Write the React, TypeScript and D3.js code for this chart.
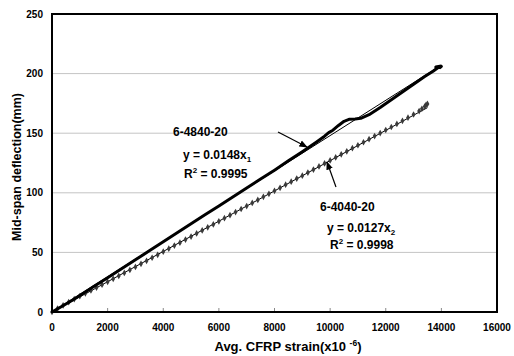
import { useEffect, useRef } from "react";
import * as d3 from "d3";

// 6-4840-20 measured curve (thick line)
const s1Strain = [0, 300, 700, 1000, 1500, 2000, 2500, 3000, 3500, 4000, 4500, 5000, 5500, 6000, 6500, 7000, 7500, 8000, 8500, 9000, 9500, 9800, 9950, 10100, 10300, 10500, 10700, 10900, 11100, 11400, 11800, 12200, 12600, 13000, 13400, 13700, 13850, 14000, 13950, 13800, 14000];
const s1Defl = [0, 4.0, 9.5, 13.8, 21.3, 28.8, 36.2, 43.8, 51.3, 58.9, 66.4, 74.0, 81.5, 89.0, 96.5, 104.0, 111.5, 119.0, 126.8, 134.5, 142.5, 147.5, 150.5, 152.5, 156.5, 160.0, 161.8, 162.0, 162.5, 165.5, 171.5, 178.0, 184.5, 191.0, 197.5, 202.0, 204.5, 206.0, 205.0, 205.5, 206.5];

// 6-4040-20 measured points (markers)
const s2Strain = [0, 200, 400, 600, 800, 1000, 1200, 1400, 1600, 1800, 2000, 2200, 2400, 2600, 2800, 3000, 3200, 3400, 3600, 3800, 4000, 4200, 4400, 4600, 4800, 5000, 5200, 5400, 5600, 5800, 6000, 6200, 6400, 6600, 6800, 7000, 7200, 7400, 7600, 7800, 8000, 8200, 8400, 8600, 8800, 9000, 9200, 9400, 9600, 9800, 10000, 10200, 10400, 10600, 10800, 11000, 11200, 11400, 11600, 11800, 12000, 12200, 12400, 12600, 12800, 13000, 13200, 13300, 13400, 13450, 13500];
const s2Defl = [0, 2.9, 5.6, 8.2, 10.8, 13.3, 15.7, 18.1, 20.5, 22.9, 25.3, 27.8, 30.3, 32.8, 35.3, 37.8, 40.4, 42.9, 45.5, 48.0, 50.6, 53.1, 55.7, 58.2, 60.8, 63.3, 65.9, 68.4, 71.0, 73.5, 76.1, 78.7, 81.2, 83.8, 86.4, 88.9, 91.5, 94.0, 96.6, 99.1, 101.7, 104.2, 106.8, 109.3, 111.9, 114.4, 117.0, 119.5, 122.1, 124.6, 127.2, 129.7, 132.3, 134.8, 137.4, 139.9, 142.4, 145.0, 147.6, 150.1, 152.7, 155.2, 157.8, 160.4, 163.0, 165.7, 168.6, 170.5, 172.4, 173.8, 174.6];

// linear trendlines through origin: slope and strain range
const trendSlopes = [0.0148, 0.0127];
const trendEnds = [14000, 13500];

const xTicks = [0, 2000, 4000, 6000, 8000, 10000, 12000, 14000, 16000];
const yTicks = [0, 50, 100, 150, 200, 250];

const FONT = "'Liberation Sans', Arial, sans-serif";

export default function App() {
  const ref = useRef<SVGSVGElement>(null);

  useEffect(() => {
    const svg = d3.select(ref.current);
    svg.selectAll("*").remove();

    const left = 52, right = 497, top = 14, bottom = 312;
    const x = d3.scaleLinear().domain([0, 16000]).range([left, right]);
    const y = d3.scaleLinear().domain([0, 250]).range([bottom, top]);

    const defs = svg.append("defs");
    defs.append("marker")
      .attr("id", "arr")
      .attr("viewBox", "0 0 10 10")
      .attr("refX", 9)
      .attr("refY", 5)
      .attr("markerWidth", 7)
      .attr("markerHeight", 7)
      .attr("orient", "auto")
      .append("path")
      .attr("d", "M0,1 L10,5 L0,9 z")
      .attr("fill", "#000");

    // gridlines
    svg.append("g")
      .selectAll("line")
      .data(yTicks.filter((t) => t > 0 && t < 250))
      .enter()
      .append("line")
      .attr("x1", left)
      .attr("x2", right)
      .attr("y1", (d) => y(d))
      .attr("y2", (d) => y(d))
      .attr("stroke", "#c4c4c4")
      .attr("stroke-width", 1);

    // x ticks (inside)
    svg.append("g")
      .selectAll("line")
      .data(xTicks.slice(1, -1))
      .enter()
      .append("line")
      .attr("x1", (d) => x(d))
      .attr("x2", (d) => x(d))
      .attr("y1", bottom)
      .attr("y2", bottom - 4)
      .attr("stroke", "#888");

    // tick labels
    svg.append("g")
      .selectAll("text")
      .data(xTicks)
      .enter()
      .append("text")
      .attr("x", (d) => x(d))
      .attr("y", 331)
      .attr("text-anchor", "middle")
      .attr("font-family", FONT)
      .attr("font-weight", "bold")
      .attr("font-size", 10)
      .text((d) => d);

    svg.append("g")
      .selectAll("text")
      .data(yTicks)
      .enter()
      .append("text")
      .attr("x", 43)
      .attr("y", (d) => y(d) + 3.5)
      .attr("text-anchor", "end")
      .attr("font-family", FONT)
      .attr("font-weight", "bold")
      .attr("font-size", 10)
      .text((d) => d);

    // trendlines
    trendSlopes.forEach((m, i) => {
      svg.append("line")
        .attr("x1", x(0))
        .attr("y1", y(0))
        .attr("x2", x(trendEnds[i]))
        .attr("y2", y(m * trendEnds[i]))
        .attr("stroke", "#000")
        .attr("stroke-width", 1);
    });

    // series 2 markers
    const pts2 = s2Strain.map((s, i) => [s, s2Defl[i]]);
    svg.append("g")
      .selectAll("path")
      .data(pts2)
      .enter()
      .append("path")
      .attr("d", d3.symbol().type(d3.symbolDiamond).size(13))
      .attr("transform", (d) => `translate(${x(d[0])},${y(d[1])})`)
      .attr("fill", "#3a3a3a");

    // series 1 thick line
    const pts1 = s1Strain.map((s, i) => [s, s1Defl[i]] as [number, number]);
    svg.append("path")
      .datum(pts1)
      .attr("d", d3.line<[number, number]>().x((d) => x(d[0])).y((d) => y(d[1])))
      .attr("fill", "none")
      .attr("stroke", "#000")
      .attr("stroke-width", 3)
      .attr("stroke-linejoin", "round");

    // frame
    svg.append("rect")
      .attr("x", left)
      .attr("y", top)
      .attr("width", right - left)
      .attr("height", bottom - top)
      .attr("fill", "none")
      .attr("stroke", "#000")
      .attr("stroke-width", 2);

    // annotations
    const arrow = (x1: number, y1: number, x2: number, y2: number) =>
      svg.append("line")
        .attr("x1", x(x1)).attr("y1", y(y1))
        .attr("x2", x(x2)).attr("y2", y(y2))
        .attr("stroke", "#000")
        .attr("stroke-width", 1.2)
        .attr("marker-end", "url(#arr)");
    arrow(8126, 151, 9169, 138.4);
    arrow(10211, 104.9, 9888, 125.8);

    const label = (sx: number, dy: number, txt: string) =>
      svg.append("text")
        .attr("x", x(sx))
        .attr("y", y(dy))
        .attr("font-family", FONT)
        .attr("font-weight", "bold")
        .attr("font-size", 12)
        .text(txt);

    const eq = (sx: number, dy: number, slope: string, sub: string) => {
      const t = svg.append("text")
        .attr("x", x(sx))
        .attr("y", y(dy))
        .attr("font-family", FONT)
        .attr("font-weight", "bold")
        .attr("font-size", 12);
      t.append("tspan").text(`y = ${slope}x`);
      t.append("tspan").attr("font-size", 8).attr("dy", 3).text(sub);
    };
    const r2 = (sx: number, dy: number, val: string) => {
      const t = svg.append("text")
        .attr("x", x(sx))
        .attr("y", y(dy))
        .attr("font-family", FONT)
        .attr("font-weight", "bold")
        .attr("font-size", 12);
      t.append("tspan").text("R");
      t.append("tspan").attr("font-size", 8).attr("dy", -5).text("2");
      t.append("tspan").attr("dy", 5).text(` = ${val}`);
    };

    label(4351, 147.6, "6-4840-20");
    eq(4710, 128.4, "0.0148", "1");
    r2(4746, 112.4, "0.9995");
    label(9636, 84.7, "6-4040-20");
    eq(9888, 67.1, "0.0127", "2");
    r2(9996, 52.9, "0.9998");

    // axis titles
    const xt = svg.append("text")
      .attr("x", 288)
      .attr("y", 351)
      .attr("text-anchor", "middle")
      .attr("font-family", FONT)
      .attr("font-weight", "bold")
      .attr("font-size", 13);
    xt.append("tspan").text("Avg. CFRP strain(x10 ");
    xt.append("tspan").attr("font-size", 8.5).attr("dy", -5).text("-6");
    xt.append("tspan").attr("dy", 5).text(")");

    svg.append("text")
      .attr("transform", `translate(21,${(top + bottom) / 2 + 4}) rotate(-90)`)
      .attr("text-anchor", "middle")
      .attr("font-family", FONT)
      .attr("font-weight", "bold")
      .attr("font-size", 12.5)
      .text("Mid-span deflection(mm)");
  }, []);

  return (
    <svg
      ref={ref}
      width={514}
      height={356}
      style={{ position: "absolute", left: 0, top: 0, background: "#fff" }}
    />
  );
}
